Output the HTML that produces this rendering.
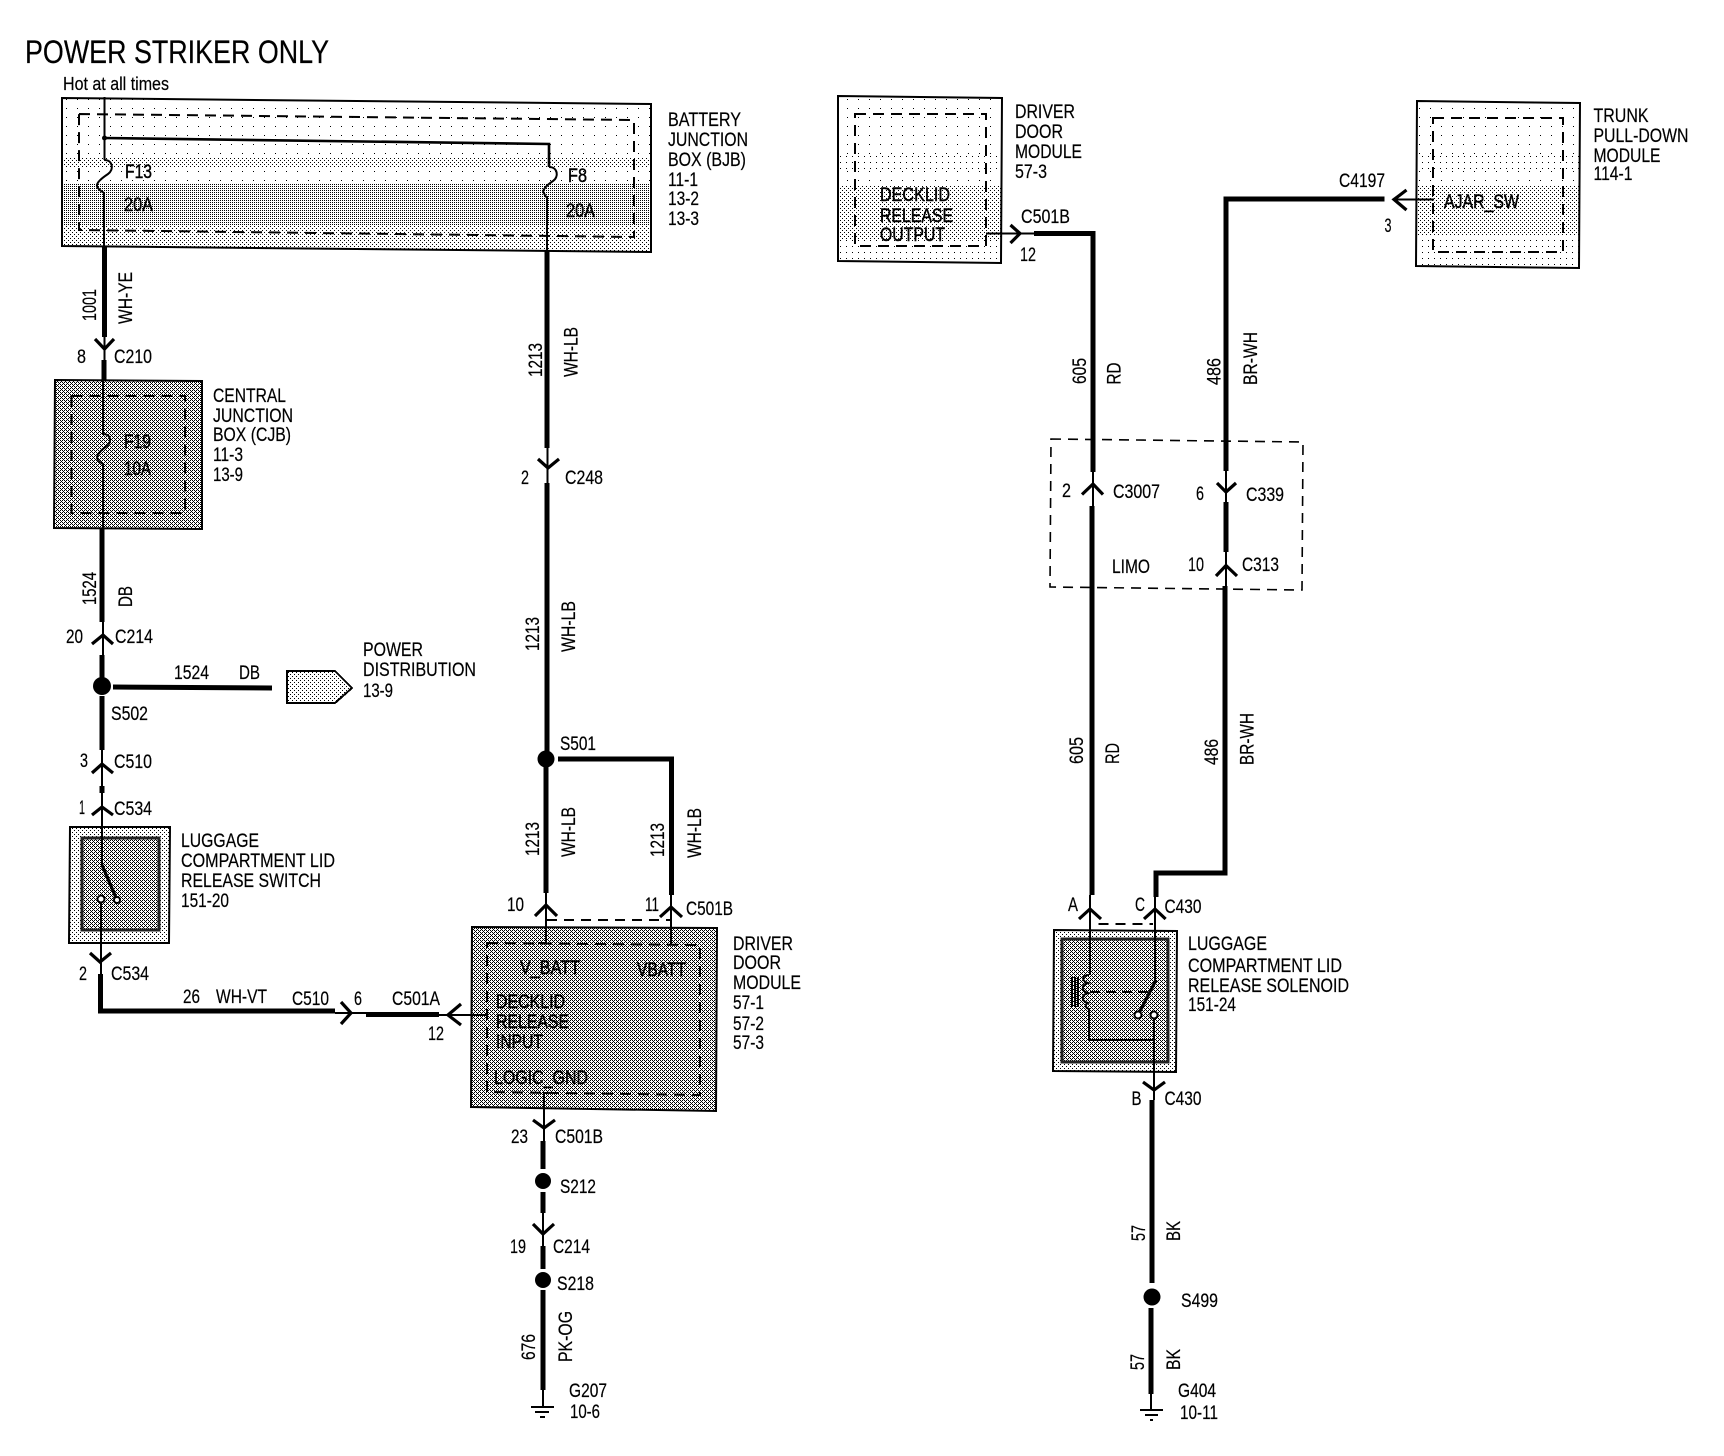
<!DOCTYPE html>
<html><head><meta charset="utf-8"><title>Power Striker Only</title>
<style>
html,body{margin:0;padding:0;background:#fff}
svg{display:block}
text{font-family:"Liberation Sans",sans-serif;font-size:19.5px;fill:#000;stroke:#000;stroke-width:.2px}
text.b{stroke-width:.45px}
.w{fill:none;stroke:#000;stroke-width:5}
.n{fill:none;stroke:#000;stroke-width:2}
.a{fill:none;stroke:#000;stroke-width:3.2}
.d{fill:none;stroke:#000;stroke-width:2;stroke-dasharray:11 7}
.l{fill:none;stroke:#000;stroke-width:1.6;stroke-dasharray:10 7}
.o{fill:none;stroke:#000;stroke-width:2}
.i{fill:none;stroke:#222;stroke-width:3}
</style></head><body>
<svg xmlns="http://www.w3.org/2000/svg" width="1724" height="1456" viewBox="0 0 1724 1456">
<defs>
<pattern id="p00" width="11" height="9" patternUnits="userSpaceOnUse"><rect width="1" height="1" fill="#000"/></pattern>
<pattern id="p0" width="6" height="6" patternUnits="userSpaceOnUse"><rect width="1" height="1" fill="#000"/></pattern>
<pattern id="p1" width="4" height="4" patternUnits="userSpaceOnUse"><rect width="1" height="1" fill="#000"/><rect x="2" y="2" width="1" height="1" fill="#000"/></pattern>
<pattern id="p2" width="2" height="2" patternUnits="userSpaceOnUse"><rect width="1" height="1" fill="#000"/></pattern>
<pattern id="p3" width="4" height="4" patternUnits="userSpaceOnUse"><rect x="0" y="0" width="1" height="1" fill="#000"/><rect x="2" y="0" width="1" height="1" fill="#000"/><rect x="1" y="1" width="1" height="1" fill="#000"/><rect x="0" y="2" width="1" height="1" fill="#000"/><rect x="2" y="2" width="1" height="1" fill="#000"/><rect x="3" y="3" width="1" height="1" fill="#000"/></pattern>
<clipPath id="c1"><polygon points="62,98 651,104 651,252 62,246"/></clipPath>
<clipPath id="c2"><polygon points="838,96 1002,98 1001,263 838,261"/></clipPath>
<clipPath id="c3"><polygon points="1417,101 1580,103 1579,268 1416,266"/></clipPath>
</defs>
<rect width="1724" height="1456" fill="#fff"/>

<!-- stipple boxes -->
<g clip-path="url(#c1)" shape-rendering="crispEdges">
<rect x="60" y="96" width="594" height="62" fill="url(#p00)"/>
<rect x="60" y="158" width="594" height="10" fill="url(#p1)"/>
<rect x="60" y="168" width="594" height="16" fill="url(#p00)"/>
<rect x="60" y="184" width="594" height="41" fill="url(#p2)"/>
<rect x="60" y="225" width="594" height="30" fill="url(#p1)"/>
</g>
<polygon class="o" points="62,98 651,104 651,252 62,246"/>
<polygon class="d" points="79,114 634,120 634,237 79,230"/>

<g clip-path="url(#c2)" shape-rendering="crispEdges">
<rect x="836" y="94" width="168" height="61" fill="url(#p00)"/>
<rect x="836" y="155" width="168" height="15" fill="url(#p0)"/>
<rect x="836" y="170" width="168" height="15" fill="url(#p00)"/>
<rect x="836" y="185" width="168" height="55" fill="url(#p1)"/>
<rect x="836" y="240" width="168" height="25" fill="url(#p0)"/>
</g>
<polygon class="o" points="838,96 1002,98 1001,263 838,261"/>
<polygon class="d" points="855,114 986,114 986,246 855,246"/>

<g clip-path="url(#c3)" shape-rendering="crispEdges">
<rect x="1414" y="99" width="168" height="56" fill="url(#p00)"/>
<rect x="1414" y="155" width="168" height="15" fill="url(#p0)"/>
<rect x="1414" y="170" width="168" height="15" fill="url(#p00)"/>
<rect x="1414" y="185" width="168" height="50" fill="url(#p1)"/>
<rect x="1414" y="235" width="168" height="33" fill="url(#p0)"/>
</g>
<polygon class="o" points="1417,101 1580,103 1579,268 1416,266"/>
<polygon class="d" points="1433,118 1563,118 1563,252 1433,252"/>

<polygon points="55,380 202,381 202,529 54,528" fill="url(#p3)" shape-rendering="crispEdges"/>
<polygon class="o" points="55,380 202,381 202,529 54,528"/>
<rect class="d" x="71.5" y="396" width="113.5" height="117"/>

<polygon points="472,927 717,928 716,1111 471,1107" fill="url(#p3)" shape-rendering="crispEdges"/>
<polygon class="o" points="472,927 717,928 716,1111 471,1107"/>
<polygon class="d" points="487,943 700,945 700,1095 487,1092"/>

<polygon points="70,827 170,827 169,943 69,943" fill="url(#p1)" shape-rendering="crispEdges"/>
<rect x="82" y="838" width="77" height="92" fill="url(#p3)" shape-rendering="crispEdges"/>
<polygon class="o" points="70,827 170,827 169,943 69,943"/>
<rect class="i" x="82" y="838" width="77" height="92"/>

<polygon points="1054,930 1177,931 1176,1072 1053,1071" fill="url(#p1)" shape-rendering="crispEdges"/>
<rect x="1062" y="939" width="106" height="123" fill="url(#p3)" shape-rendering="crispEdges"/>
<polygon class="o" points="1054,930 1177,931 1176,1072 1053,1071"/>
<rect class="i" x="1062" y="939" width="106" height="123"/>

<polygon points="287,671 335,671 352,688 335,703 287,703" fill="url(#p1)" stroke="#000" stroke-width="2" shape-rendering="crispEdges"/>
<polygon class="l" points="1051,439 1303,442 1302,590 1050,587"/>

<!-- left wire -->
<path class="n" d="M104.5 97V160M104.5 160C113 160 114 170 108 174C102 178 94 184 98 188C100 191 103 192 104 193V246"/>
<path class="w" d="M104.5 246V337"/>
<path class="a" d="M95 339L104.5 349L114 339"/>
<path class="n" d="M104.5 337V360"/>
<path class="w" d="M104 360V381"/>
<path class="n" d="M103 381V434C111 434 112 442 107 446C101 450 95 456 98 460C100 463 102 463 103 464V529"/>
<path class="w" d="M102 529V622"/>
<path class="a" d="M92 644L103 635L113 644"/>
<path class="n" d="M103 622V655"/>
<path class="w" d="M102 655V678"/>
<ellipse cx="102" cy="686" rx="9" ry="9"/>
<path class="w" d="M102 696V750"/>
<path class="w" d="M113 687L272 688"/>
<path class="a" d="M92 773L102 764L113 773"/>
<path class="n" d="M102 750V786"/>
<path class="w" d="M102 786V793"/>
<path class="a" d="M92 815L102 807L113 815"/>
<path class="n" d="M102 793V865"/>
<path class="a" d="M102 865L117 900"/>
<circle cx="117" cy="900" r="3" fill="#fff" stroke="#000" stroke-width="2"/>
<circle cx="101" cy="899" r="3.5" fill="#fff" stroke="#000" stroke-width="2"/>
<path class="n" d="M101 902V974"/>
<path class="a" d="M90 953L100 962L111 953"/>
<path class="w" d="M100.5 974V1011H335"/>
<path class="a" d="M341 1002L351 1013L341 1024"/>
<path class="n" d="M335 1013H366"/>
<path class="w" d="M366 1014.5H439"/>
<path class="a" d="M461 1004L448 1015L461 1025"/>
<path class="n" d="M439 1015H487V1020"/>

<!-- branch F8 -->
<circle cx="104.5" cy="138" r="2.5"/>
<path class="n" style="stroke-width:2.6" d="M104 138L549 144V167"/>
<path class="n" d="M549 167C558 167 559 177 553 181C547 185 541 191 544 193C545 196 546 197 547 197V251"/>
<path class="w" d="M547 251V448"/>
<path class="a" d="M538 459L548 468L559 459"/>
<path class="n" d="M547.500 448V483"/>
<path class="w" d="M547 483V759"/>
<ellipse cx="546" cy="759" rx="8.500" ry="8.500"/>
<path class="w" d="M558 759H671.500V895"/>
<path class="w" d="M546 767V893"/>
<path class="a" d="M535 916L546 905L557 916"/>
<path class="a" d="M660 917L671 907L682 917"/>
<path class="n" d="M546 893V943H538"/>
<path class="n" d="M671 895V945"/>
<path d="M547 920H670" fill="none" stroke="#000" stroke-width="2" stroke-dasharray="10 7"/>

<!-- bottom -->
<path class="n" d="M548 1093H544V1141"/>
<path class="a" d="M533 1120L544 1128L555 1120"/>
<path class="w" d="M543 1141V1169"/>
<circle cx="543" cy="1181" r="8"/>
<path class="w" d="M543 1192V1213"/>
<path class="n" d="M543 1213V1246"/>
<path class="a" d="M533 1224L543 1234L554 1224"/>
<path class="w" d="M543 1246V1269"/>
<circle cx="543" cy="1280" r="8"/>
<path class="w" d="M543 1290V1390"/>
<path class="n" d="M543 1390V1407M531 1407H554M535 1412H549M540 1417H545"/>

<!-- right wires -->
<path class="n" d="M986 233.500H1010"/>
<path class="a" d="M1010.500 225L1020 233.500L1010.500 243"/>
<path class="n" d="M1010 233.500H1034"/>
<path class="w" d="M1034 233.500H1093V472"/>
<path class="a" d="M1082 494.500L1093 484L1103 494.500"/>
<path class="n" d="M1093 472V506"/>
<path class="w" d="M1092 506V895"/>
<path class="a" d="M1079 919L1090 909L1101 919"/>
<path class="n" d="M1090 895V975"/>
<path class="n" d="M1089 975C1082 975 1081 981 1088 983C1081 985 1081 991 1088 993C1081 995 1081 1001 1088 1003C1084 1005 1086 1008 1089 1009V1040H1154"/>
<path class="n" d="M1072 977V1007M1075 977V1007M1078 977V1007" stroke-width="1.600"/>
<path d="M1090 992H1150" fill="none" stroke="#000" stroke-width="2" stroke-dasharray="10 6"/>
<path class="a" d="M1156 980L1138 1015"/>
<circle cx="1138" cy="1015" r="3.500" fill="#fff" stroke="#000" stroke-width="2"/>
<circle cx="1154" cy="1015" r="3.500" fill="#fff" stroke="#000" stroke-width="2"/>
<path class="n" d="M1154 1019V1100"/>
<path class="a" d="M1143 1082L1154 1090L1165 1082"/>
<path class="w" d="M1152 1100V1283"/>
<circle cx="1152" cy="1297" r="8.500"/>
<path class="w" d="M1151 1308V1394"/>
<path class="n" d="M1151 1394V1410M1140 1410H1163M1145 1415H1158M1150 1420H1153"/>

<path class="n" d="M1434 199.500H1394"/>
<path class="a" d="M1406.500 190L1394 199.500L1406.500 210"/>
<path class="w" d="M1384.500 199H1226V471"/>
<path class="a" d="M1217 483L1226 492L1236 483"/>
<path class="n" d="M1226 471V502"/>
<path class="w" d="M1226 502V552"/>
<path class="a" d="M1216 576L1226 565.500L1237 576"/>
<path class="n" d="M1226 552V586"/>
<path class="w" d="M1225 586V873H1156V897"/>
<path class="a" d="M1144 919L1155 909L1165.600 919"/>
<path class="n" d="M1155 897V981"/>
<path d="M1098.500 924H1153" fill="none" stroke="#000" stroke-width="2" stroke-dasharray="10 7"/>

<!-- text -->
<text x="25" y="63" style="font-size:32px" textLength="304" lengthAdjust="spacingAndGlyphs">POWER STRIKER ONLY</text>
<text x="63" y="90" style="font-size:18.5px" textLength="106" lengthAdjust="spacingAndGlyphs">Hot at all times</text>

<text x="668" y="126" textLength="73" lengthAdjust="spacingAndGlyphs">BATTERY</text>
<text x="668" y="146" textLength="80" lengthAdjust="spacingAndGlyphs">JUNCTION</text>
<text x="668" y="166" textLength="78" lengthAdjust="spacingAndGlyphs">BOX (BJB)</text>
<text x="668" y="186" textLength="30" lengthAdjust="spacingAndGlyphs">11-1</text>
<text x="668" y="205" textLength="31" lengthAdjust="spacingAndGlyphs">13-2</text>
<text x="668" y="225" textLength="31" lengthAdjust="spacingAndGlyphs">13-3</text>

<text class="b" x="125" y="178" textLength="27" lengthAdjust="spacingAndGlyphs">F13</text>
<text class="b" x="124" y="211" textLength="29" lengthAdjust="spacingAndGlyphs">20A</text>
<text class="b" x="568" y="182" textLength="19" lengthAdjust="spacingAndGlyphs">F8</text>
<text class="b" x="566" y="217" textLength="29" lengthAdjust="spacingAndGlyphs">20A</text>
<text class="b" x="124" y="448" textLength="27" lengthAdjust="spacingAndGlyphs">F19</text>
<text class="b" x="124" y="475" textLength="27" lengthAdjust="spacingAndGlyphs">10A</text>

<text transform="translate(96,321) rotate(-90)" textLength="32" lengthAdjust="spacingAndGlyphs">1001</text>
<text transform="translate(132,324) rotate(-90)" textLength="52" lengthAdjust="spacingAndGlyphs">WH-YE</text>
<text x="77" y="363" textLength="9" lengthAdjust="spacingAndGlyphs">8</text>
<text x="114" y="363" textLength="38" lengthAdjust="spacingAndGlyphs">C210</text>

<text x="213" y="402" textLength="73" lengthAdjust="spacingAndGlyphs">CENTRAL</text>
<text x="213" y="422" textLength="80" lengthAdjust="spacingAndGlyphs">JUNCTION</text>
<text x="213" y="441" textLength="78" lengthAdjust="spacingAndGlyphs">BOX (CJB)</text>
<text x="213" y="461" textLength="30" lengthAdjust="spacingAndGlyphs">11-3</text>
<text x="213" y="481" textLength="30" lengthAdjust="spacingAndGlyphs">13-9</text>

<text transform="translate(96,605) rotate(-90)" textLength="33" lengthAdjust="spacingAndGlyphs">1524</text>
<text transform="translate(132,607) rotate(-90)" textLength="21" lengthAdjust="spacingAndGlyphs">DB</text>
<text x="66" y="643" textLength="17" lengthAdjust="spacingAndGlyphs">20</text>
<text x="115" y="643" textLength="38" lengthAdjust="spacingAndGlyphs">C214</text>
<text x="174" y="679" textLength="35" lengthAdjust="spacingAndGlyphs">1524</text>
<text x="239" y="679" textLength="21" lengthAdjust="spacingAndGlyphs">DB</text>
<text x="111" y="720" textLength="37" lengthAdjust="spacingAndGlyphs">S502</text>
<text x="363" y="656" textLength="60" lengthAdjust="spacingAndGlyphs">POWER</text>
<text x="363" y="676" textLength="113" lengthAdjust="spacingAndGlyphs">DISTRIBUTION</text>
<text x="363" y="697" textLength="30" lengthAdjust="spacingAndGlyphs">13-9</text>

<text transform="translate(542,377) rotate(-90)" textLength="34" lengthAdjust="spacingAndGlyphs">1213</text>
<text transform="translate(577.500,377) rotate(-90)" textLength="50" lengthAdjust="spacingAndGlyphs">WH-LB</text>
<text x="521" y="484" textLength="8" lengthAdjust="spacingAndGlyphs">2</text>
<text x="565" y="484" textLength="38" lengthAdjust="spacingAndGlyphs">C248</text>
<text transform="translate(539,651) rotate(-90)" textLength="34" lengthAdjust="spacingAndGlyphs">1213</text>
<text transform="translate(575,652) rotate(-90)" textLength="51" lengthAdjust="spacingAndGlyphs">WH-LB</text>

<text x="80" y="767" textLength="8" lengthAdjust="spacingAndGlyphs">3</text>
<text x="114" y="768" textLength="38" lengthAdjust="spacingAndGlyphs">C510</text>
<text x="79" y="814" textLength="6" lengthAdjust="spacingAndGlyphs">1</text>
<text x="114" y="815" textLength="38" lengthAdjust="spacingAndGlyphs">C534</text>
<text x="181" y="847" textLength="78" lengthAdjust="spacingAndGlyphs">LUGGAGE</text>
<text x="181" y="867" textLength="154" lengthAdjust="spacingAndGlyphs">COMPARTMENT LID</text>
<text x="181" y="887" textLength="140" lengthAdjust="spacingAndGlyphs">RELEASE SWITCH</text>
<text x="181" y="907" textLength="48" lengthAdjust="spacingAndGlyphs">151-20</text>
<text x="79" y="980" textLength="8" lengthAdjust="spacingAndGlyphs">2</text>
<text x="111" y="980" textLength="38" lengthAdjust="spacingAndGlyphs">C534</text>
<text x="183" y="1003" textLength="17" lengthAdjust="spacingAndGlyphs">26</text>
<text x="216" y="1003" textLength="51" lengthAdjust="spacingAndGlyphs">WH-VT</text>
<text x="292" y="1005" textLength="37" lengthAdjust="spacingAndGlyphs">C510</text>
<text x="354" y="1005" textLength="8" lengthAdjust="spacingAndGlyphs">6</text>
<text x="392" y="1005" textLength="48" lengthAdjust="spacingAndGlyphs">C501A</text>
<text x="428" y="1040" textLength="16" lengthAdjust="spacingAndGlyphs">12</text>

<text x="560" y="750" textLength="36" lengthAdjust="spacingAndGlyphs">S501</text>
<text transform="translate(539,856) rotate(-90)" textLength="34" lengthAdjust="spacingAndGlyphs">1213</text>
<text transform="translate(575,857) rotate(-90)" textLength="50" lengthAdjust="spacingAndGlyphs">WH-LB</text>
<text transform="translate(664,857) rotate(-90)" textLength="34" lengthAdjust="spacingAndGlyphs">1213</text>
<text transform="translate(701,858) rotate(-90)" textLength="50" lengthAdjust="spacingAndGlyphs">WH-LB</text>
<text x="507" y="911" textLength="17" lengthAdjust="spacingAndGlyphs">10</text>
<text x="645" y="911" textLength="14" lengthAdjust="spacingAndGlyphs">11</text>
<text x="686" y="915" textLength="47" lengthAdjust="spacingAndGlyphs">C501B</text>

<text class="b" x="520" y="974" textLength="60" lengthAdjust="spacingAndGlyphs">V_BATT</text>
<text class="b" x="637" y="976" textLength="49" lengthAdjust="spacingAndGlyphs">VBATT</text>
<text class="b" x="496" y="1008" textLength="69" lengthAdjust="spacingAndGlyphs">DECKLID</text>
<text class="b" x="496" y="1028" textLength="73" lengthAdjust="spacingAndGlyphs">RELEASE</text>
<text class="b" x="496" y="1048" textLength="47" lengthAdjust="spacingAndGlyphs">INPUT</text>
<text class="b" x="494" y="1084" textLength="94" lengthAdjust="spacingAndGlyphs">LOGIC_GND</text>

<text x="733" y="950" textLength="60" lengthAdjust="spacingAndGlyphs">DRIVER</text>
<text x="733" y="969" textLength="48" lengthAdjust="spacingAndGlyphs">DOOR</text>
<text x="733" y="989" textLength="68" lengthAdjust="spacingAndGlyphs">MODULE</text>
<text x="733" y="1009" textLength="31" lengthAdjust="spacingAndGlyphs">57-1</text>
<text x="733" y="1030" textLength="31" lengthAdjust="spacingAndGlyphs">57-2</text>
<text x="733" y="1049" textLength="31" lengthAdjust="spacingAndGlyphs">57-3</text>

<text x="511" y="1143" textLength="17" lengthAdjust="spacingAndGlyphs">23</text>
<text x="555" y="1143" textLength="48" lengthAdjust="spacingAndGlyphs">C501B</text>
<text x="560" y="1193" textLength="36" lengthAdjust="spacingAndGlyphs">S212</text>
<text x="510" y="1253" textLength="16" lengthAdjust="spacingAndGlyphs">19</text>
<text x="553" y="1253" textLength="37" lengthAdjust="spacingAndGlyphs">C214</text>
<text x="557" y="1290" textLength="37" lengthAdjust="spacingAndGlyphs">S218</text>
<text transform="translate(535,1360) rotate(-90)" textLength="26" lengthAdjust="spacingAndGlyphs">676</text>
<text transform="translate(572,1362) rotate(-90)" textLength="51" lengthAdjust="spacingAndGlyphs">PK-OG</text>
<text x="569" y="1397" textLength="38" lengthAdjust="spacingAndGlyphs">G207</text>
<text x="570" y="1418" textLength="30" lengthAdjust="spacingAndGlyphs">10-6</text>

<text class="b" x="880" y="201" textLength="70" lengthAdjust="spacingAndGlyphs">DECKLID</text>
<text class="b" x="880" y="222" textLength="73" lengthAdjust="spacingAndGlyphs">RELEASE</text>
<text class="b" x="880" y="241" textLength="65" lengthAdjust="spacingAndGlyphs">OUTPUT</text>
<text x="1015" y="118" textLength="60" lengthAdjust="spacingAndGlyphs">DRIVER</text>
<text x="1015" y="138" textLength="48" lengthAdjust="spacingAndGlyphs">DOOR</text>
<text x="1015" y="158" textLength="67" lengthAdjust="spacingAndGlyphs">MODULE</text>
<text x="1015" y="178" textLength="32" lengthAdjust="spacingAndGlyphs">57-3</text>
<text x="1021" y="223" textLength="49" lengthAdjust="spacingAndGlyphs">C501B</text>
<text x="1020" y="261" textLength="16" lengthAdjust="spacingAndGlyphs">12</text>
<text transform="translate(1086,384) rotate(-90)" textLength="26" lengthAdjust="spacingAndGlyphs">605</text>
<text transform="translate(1120.500,384.500) rotate(-90)" textLength="22" lengthAdjust="spacingAndGlyphs">RD</text>
<text transform="translate(1220.600,385) rotate(-90)" textLength="27" lengthAdjust="spacingAndGlyphs">486</text>
<text transform="translate(1257,385) rotate(-90)" textLength="53" lengthAdjust="spacingAndGlyphs">BR-WH</text>

<text x="1339" y="187" textLength="46" lengthAdjust="spacingAndGlyphs">C4197</text>
<text x="1384.500" y="232" textLength="7" lengthAdjust="spacingAndGlyphs">3</text>
<text class="b" x="1444" y="208" textLength="75" lengthAdjust="spacingAndGlyphs">AJAR_SW</text>
<text x="1593.500" y="122" textLength="55" lengthAdjust="spacingAndGlyphs">TRUNK</text>
<text x="1593.500" y="142" textLength="95" lengthAdjust="spacingAndGlyphs">PULL-DOWN</text>
<text x="1593.500" y="162" textLength="67" lengthAdjust="spacingAndGlyphs">MODULE</text>
<text x="1593.500" y="180" textLength="39" lengthAdjust="spacingAndGlyphs">114-1</text>

<text x="1062" y="497" textLength="9" lengthAdjust="spacingAndGlyphs">2</text>
<text x="1113" y="498" textLength="47" lengthAdjust="spacingAndGlyphs">C3007</text>
<text x="1196" y="500" textLength="8" lengthAdjust="spacingAndGlyphs">6</text>
<text x="1246" y="501" textLength="38" lengthAdjust="spacingAndGlyphs">C339</text>
<text x="1112" y="573" textLength="38" lengthAdjust="spacingAndGlyphs">LIMO</text>
<text x="1188" y="571" textLength="16" lengthAdjust="spacingAndGlyphs">10</text>
<text x="1242" y="571" textLength="37" lengthAdjust="spacingAndGlyphs">C313</text>

<text transform="translate(1083,764) rotate(-90)" textLength="27" lengthAdjust="spacingAndGlyphs">605</text>
<text transform="translate(1119,764) rotate(-90)" textLength="21" lengthAdjust="spacingAndGlyphs">RD</text>
<text transform="translate(1218,765) rotate(-90)" textLength="26" lengthAdjust="spacingAndGlyphs">486</text>
<text transform="translate(1253.600,765) rotate(-90)" textLength="52" lengthAdjust="spacingAndGlyphs">BR-WH</text>

<text x="1068" y="911" textLength="10" lengthAdjust="spacingAndGlyphs">A</text>
<text x="1135" y="911" textLength="10" lengthAdjust="spacingAndGlyphs">C</text>
<text x="1164.500" y="913" textLength="37" lengthAdjust="spacingAndGlyphs">C430</text>
<text x="1188" y="950" textLength="79" lengthAdjust="spacingAndGlyphs">LUGGAGE</text>
<text x="1188" y="972" textLength="154" lengthAdjust="spacingAndGlyphs">COMPARTMENT LID</text>
<text x="1188" y="992" textLength="161" lengthAdjust="spacingAndGlyphs">RELEASE SOLENOID</text>
<text x="1188" y="1011" textLength="48" lengthAdjust="spacingAndGlyphs">151-24</text>
<text x="1131.500" y="1105" textLength="10" lengthAdjust="spacingAndGlyphs">B</text>
<text x="1164.500" y="1105" textLength="37" lengthAdjust="spacingAndGlyphs">C430</text>
<text transform="translate(1145,1241) rotate(-90)" textLength="16" lengthAdjust="spacingAndGlyphs">57</text>
<text transform="translate(1180,1241) rotate(-90)" textLength="20" lengthAdjust="spacingAndGlyphs">BK</text>
<text x="1181" y="1307" textLength="37" lengthAdjust="spacingAndGlyphs">S499</text>
<text transform="translate(1144,1370) rotate(-90)" textLength="16" lengthAdjust="spacingAndGlyphs">57</text>
<text transform="translate(1180,1370) rotate(-90)" textLength="21" lengthAdjust="spacingAndGlyphs">BK</text>
<text x="1178" y="1397" textLength="38" lengthAdjust="spacingAndGlyphs">G404</text>
<text x="1180" y="1419" textLength="38" lengthAdjust="spacingAndGlyphs">10-11</text>
</svg>
</body></html>
